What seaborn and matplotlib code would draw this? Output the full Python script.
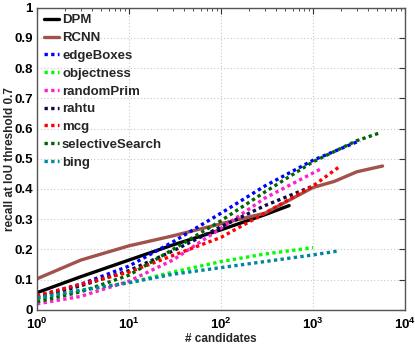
import numpy as np
import pandas as pd
import matplotlib
matplotlib.use("Agg")
import matplotlib.pyplot as plt
import seaborn as sns
from matplotlib.ticker import LogLocator, FixedLocator, FuncFormatter

# ---- data ----
dpm_x = [1, 3, 10, 30, 100, 300, 550]
dpm_y = [0.057, 0.11, 0.165, 0.215, 0.265, 0.315, 0.345]

rcnn_x = [1, 3, 10, 30, 100, 300, 1000, 1700, 3000, 5700]
rcnn_y = [0.103, 0.165, 0.212, 0.245, 0.285, 0.32, 0.405, 0.425, 0.457, 0.476]

edge_x = [1, 3, 10, 30, 100, 300, 1000, 3240]
edge_y = [0.045, 0.085, 0.145, 0.225, 0.32, 0.41, 0.495, 0.56]

obj_x = [1, 3, 10, 30, 100, 300, 1000]
obj_y = [0.035, 0.065, 0.09, 0.125, 0.16, 0.185, 0.206]

rp_x = [1, 3, 10, 30, 100, 300, 1210]
rp_y = [0.02, 0.045, 0.095, 0.165, 0.27, 0.37, 0.466]

rahtu_x = [1, 3, 10, 30, 100, 300, 970]
rahtu_y = [0.04, 0.08, 0.13, 0.195, 0.275, 0.345, 0.408]

mcg_x = [1, 3, 10, 30, 100, 300, 1000, 2000]
mcg_y = [0.047, 0.085, 0.125, 0.18, 0.24, 0.32, 0.41, 0.477]

ss_x = [1, 3, 10, 30, 100, 300, 1000, 3000, 5370]
ss_y = [0.027, 0.06, 0.115, 0.2, 0.295, 0.39, 0.49, 0.56, 0.586]

bing_x = [1, 3, 10, 30, 100, 300, 1000, 1880]
bing_y = [0.04, 0.065, 0.09, 0.118, 0.14, 0.16, 0.182, 0.195]

names = ["DPM", "RCNN", "edgeBoxes", "objectness", "randomPrim",
         "rahtu", "mcg", "selectiveSearch", "bing"]
xs = [dpm_x, rcnn_x, edge_x, obj_x, rp_x, rahtu_x, mcg_x, ss_x, bing_x]
ys = [dpm_y, rcnn_y, edge_y, obj_y, rp_y, rahtu_y, mcg_y, ss_y, bing_y]
colors = ["#000000", "#a0524b", "#0000ff", "#00ff00", "#ff1fce",
          "#0a0a4a", "#ff0000", "#006400", "#00869e"]
solid = [True, True, False, False, False, False, False, False, False]

y_ticks = [0, 0.1, 0.2, 0.3, 0.4, 0.5, 0.6, 0.7, 0.8, 0.9, 1]
y_tick_labels = ["0", "0.1", "0.2", "0.3", "0.4", "0.5", "0.6", "0.7", "0.8", "0.9", "1"]

# ---- style ----
sns.set_style("white")
plt.rcParams["font.family"] = ["Liberation Sans", "DejaVu Sans"]
plt.rcParams["font.weight"] = "bold"
plt.rcParams["mathtext.fontset"] = "custom"
plt.rcParams["mathtext.rm"] = "Liberation Sans:bold"
plt.rcParams["mathtext.bf"] = "Liberation Sans:bold"
plt.rcParams["mathtext.it"] = "Liberation Sans:bold"
plt.rcParams["mathtext.default"] = "bf"

fig = plt.figure(figsize=(4.15, 3.44), dpi=100)
ax = fig.add_axes([0.089, 0.099, 0.887, 0.879])

for name, x, y, c, s in zip(names, xs, ys, colors, solid):
    df = pd.DataFrame({"x": x, "y": y})
    if s:
        sns.lineplot(data=df, x="x", y="y", ax=ax, color=c, lw=2.4,
                     label=name, estimator=None, sort=False)
    else:
        sns.lineplot(data=df, x="x", y="y", ax=ax, color=c, lw=2.4,
                     label=name, estimator=None, sort=False,
                     linestyle=(0, (1.0, 1.0)))

ax.set_xscale("log")
ax.set_xlim(1, 1e4)
ax.set_ylim(0, 1)
ax.xaxis.set_major_locator(LogLocator(base=10, numticks=10))
ax.xaxis.set_minor_locator(LogLocator(base=10, subs=np.arange(2, 10), numticks=20))
ax.xaxis.set_major_formatter(FuncFormatter(lambda v, p: r"$10^{%d}$" % int(round(np.log10(v)))))
ax.yaxis.set_major_locator(FixedLocator(y_ticks))
ax.set_yticklabels(y_tick_labels)

ax.grid(True, which="major", linestyle=(0, (1, 2)), color="#c8c8c8", lw=0.8)
ax.tick_params(which="both", direction="in", top=True, right=True, labelsize=9.5,
               colors="#333333", labelcolor="black")
ax.tick_params(which="major", length=4, pad=3)
ax.tick_params(which="minor", length=2)
ax.tick_params(axis="x", pad=5)
for sp in ax.spines.values():
    sp.set_color("#555555")
    sp.set_linewidth(1.0)

ax.set_xlabel("# candidates", fontsize=8.5, fontweight="bold", labelpad=1)
ax.set_ylabel("recall at IoU threshold 0.7", fontsize=8.5, fontweight="bold")
ax.yaxis.set_label_coords(-0.058, 0.5)

leg = ax.legend(loc="upper left", frameon=False, fontsize=9.5, handlelength=1.2,
                handletextpad=0.2, labelspacing=0.42, borderaxespad=0.2,
                borderpad=0.3)
for t in leg.get_texts():
    t.set_fontweight("bold")

fig.savefig("out.png", dpi=100)
